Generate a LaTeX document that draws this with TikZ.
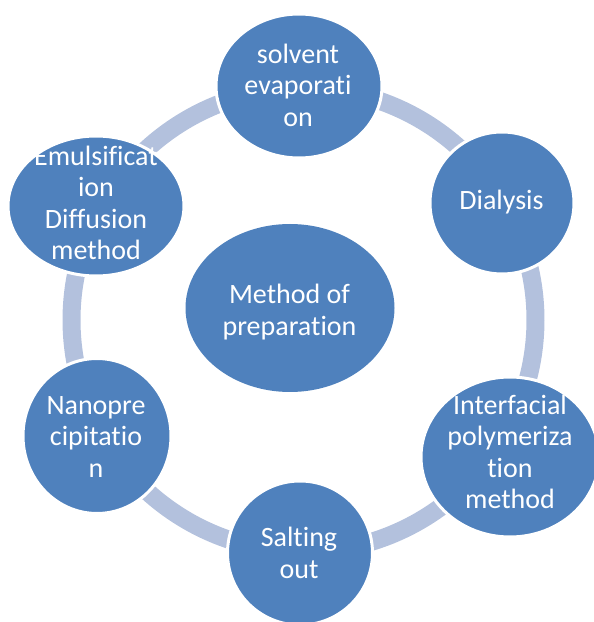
\documentclass[tikz,border=0pt]{standalone}
\usepackage{fontspec}
\setmainfont{Carlito}[Ligatures=NoCommon]
\usetikzlibrary{shapes.geometric}
\definecolor{bubble}{HTML}{4F81BD}
\definecolor{ringband}{HTML}{B3C1DD}
\begin{document}
\begin{tikzpicture}[x=1pt,y=1pt,
  bubble/.style={ellipse,fill=bubble,draw=white,line width=3pt,inner sep=0pt},
  label/.style={text=white,align=center,font=\fontsize{28}{31.5}\selectfont,inner sep=0pt},
  band/.style={draw=ringband,line width=18pt}]
\useasboundingbox (0,0) rectangle (594,622);
% ring centre
\coordinate (ring) at (303.5,302);
% band segments between neighbouring bubbles
\draw[band] (ring) ++(91:232) arc[start angle=91,end angle=30,radius=232];
\draw[band] (ring) ++(30:232) arc[start angle=30,end angle=-34,radius=232];
\draw[band] (ring) ++(-34:232) arc[start angle=-34,end angle=-91,radius=232];
\draw[band] (ring) ++(-91:232) arc[start angle=-91,end angle=-150,radius=232];
\draw[band] (ring) ++(210:232) arc[start angle=210,end angle=151,radius=232];
\draw[band] (ring) ++(151:232) arc[start angle=151,end angle=91,radius=232];
% bubbles
\node[bubble,minimum width=166,minimum height=144] (solvent) at (299,536) {};
\node[bubble,minimum width=144,minimum height=142] (dialysis) at (502,419) {};
\node[bubble,minimum width=178,minimum height=160] (interfacial) at (510,165) {};
\node[bubble,minimum width=145,minimum height=144] (salting) at (300,69) {};
\node[bubble,minimum width=148,minimum height=155] (nano) at (97,186) {};
\node[bubble,minimum width=176,minimum height=140] (emuls) at (96,416) {};
\node[bubble,draw=none,minimum width=209,minimum height=168] (method) at (290,314) {};
% texts
\node[label] (solvent-t) at (298,537) {solvent\\evaporati\\on};
\node[label] (dialysis-t) at (501.5,420) {Dialysis};
\node[label] (interfacial-t) at (510,170) {Interfacial\\polymeriza\\tion\\method};
\node[label] (salting-t) at (299,69) {Salting\\out};
\node[label] (nano-t) at (96,185) {Nanopre\\cipitatio\\n};
\node[label] (emuls-t) at (96,419) {Emulsificat\\ion\\Diffusion\\method};
\node[label] (method-t) at (289.5,310) {Method of\\preparation};
\end{tikzpicture}
\end{document}
